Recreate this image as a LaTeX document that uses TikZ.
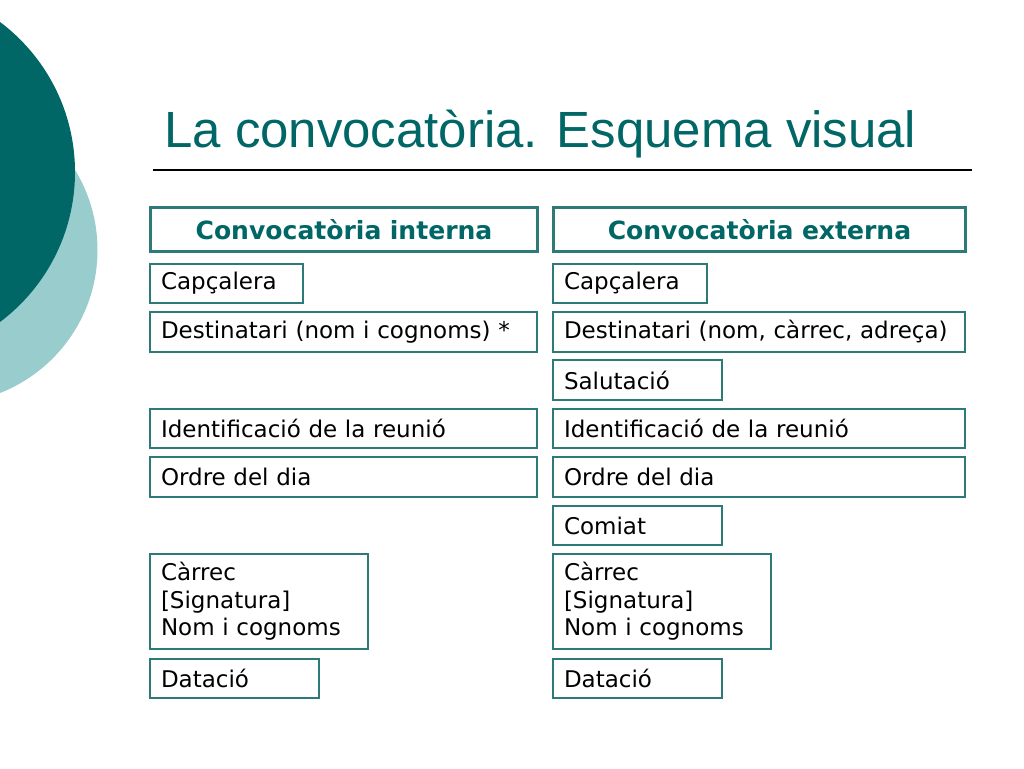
\documentclass[tikz,border=0pt]{standalone}
\usepackage{fontspec}
\newfontfamily\vfont{DejaVu Sans}
\newfontfamily\tfont{Liberation Sans}
\definecolor{darkteal}{RGB}{0,102,102}
\definecolor{lightteal}{RGB}{153,204,204}
\definecolor{boxc}{RGB}{46,122,120}
\tikzset{
  cell/.style={draw=boxc, line width=1.5pt, anchor=north west, inner xsep=8.25pt, inner ysep=1pt,
    align=left, font=\vfont\fontsize{17.25}{20.6}\selectfont, text=black},
  headcell/.style={draw=boxc, line width=2.25pt, anchor=north west, inner xsep=8.25pt, inner ysep=1pt,
    align=center, font=\vfont\bfseries\fontsize{18.8}{22}\selectfont, text=darkteal},
}
\begin{document}
\begin{tikzpicture}[x=0.75pt,y=-0.75pt]
\useasboundingbox (0,0) rectangle (1024,768);
\fill[white] (0,0) rectangle (1024,768);
% decorative circles
\begin{scope}
\clip (0,0) rectangle (1024,768);
\fill[lightteal] (-56,250) circle[radius=153.5*0.75pt];
\fill[darkteal] (-112.5,172) circle[radius=187.5*0.75pt];
\end{scope}
% title
\node[anchor=base west, inner sep=0pt, font=\tfont\fontsize{38.2}{46}\selectfont, text=darkteal] (title) at (164,147) {La convocatòria. Esquema visual};
\coordinate (rl) at (153,170);
\coordinate (rr) at (972,170);
\draw[line width=0.9pt, black] (rl) -- (rr);
% headers
\node[headcell, text width=273.75pt, minimum height=33pt] (lh) at (149,206) {Convocatòria interna};
\node[headcell, text width=292.5pt, minimum height=33pt] (rh) at (552,206) {Convocatòria externa};
% left column
\node[cell, text width=98.25pt, minimum height=29.25pt] (lcap) at (149,263) {Capçalera};
\node[cell, text width=273.75pt, minimum height=30pt] (ldest) at (149,311) {Destinatari (nom i cognoms) *};
\node[cell, text width=273.75pt, minimum height=29.25pt] (lid) at (149,408) {Identificació de la reunió};
\node[cell, text width=273.75pt, minimum height=30pt] (lord) at (149,456) {Ordre del dia};
\node[cell, text width=147pt, minimum height=71.25pt] (lcar) at (149,553) {Càrrec\\{[Signatura]}\\Nom i cognoms};
\node[cell, text width=110.25pt, minimum height=29.25pt] (ldat) at (149,658) {Datació};
% right column
\node[cell, text width=99pt, minimum height=29.25pt] (rcap) at (552,263) {Capçalera};
\node[cell, text width=292.5pt, minimum height=30pt] (rdest) at (552,311) {Destinatari (nom, càrrec, adreça)};
\node[cell, text width=110.25pt, minimum height=30pt] (rsal) at (552,359) {Salutació};
\node[cell, text width=292.5pt, minimum height=29.25pt] (rid) at (552,408) {Identificació de la reunió};
\node[cell, text width=292.5pt, minimum height=30pt] (rord) at (552,456) {Ordre del dia};
\node[cell, text width=110.25pt, minimum height=29.25pt] (rcom) at (552,505) {Comiat};
\node[cell, text width=147pt, minimum height=71.25pt] (rcar) at (552,553) {Càrrec\\{[Signatura]}\\Nom i cognoms};
\node[cell, text width=110.25pt, minimum height=29.25pt] (rdat) at (552,658) {Datació};
\end{tikzpicture}
\end{document}
